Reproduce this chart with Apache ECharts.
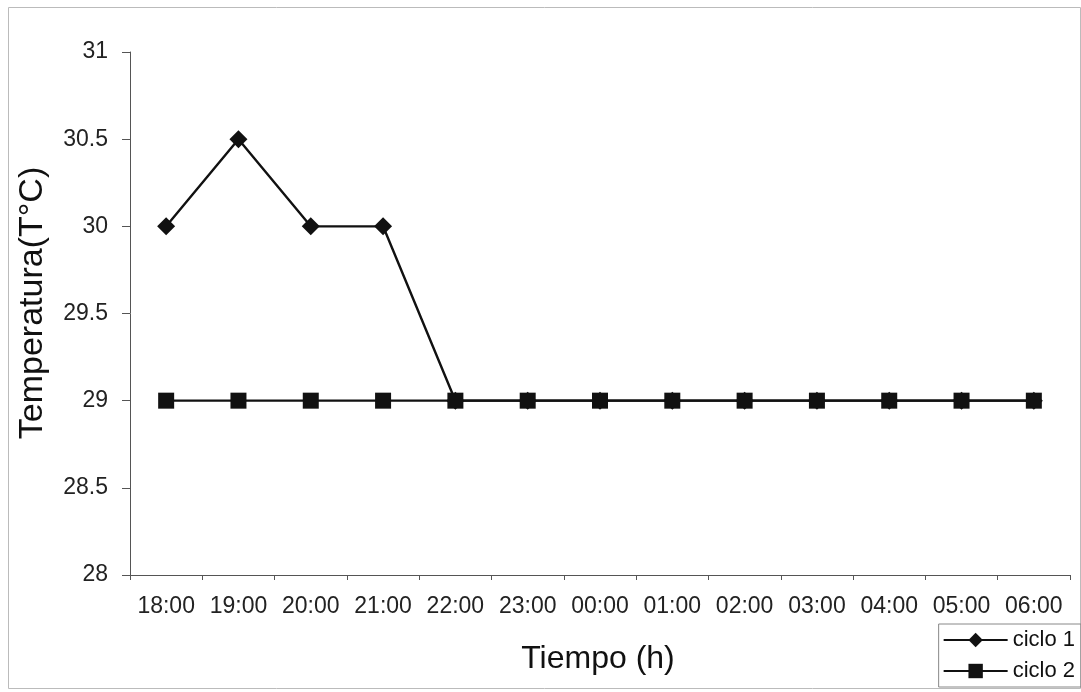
<!DOCTYPE html>
<html>
<head>
<meta charset="utf-8">
<script src="https://cdn.jsdelivr.net/npm/echarts@6/dist/echarts.min.js"></script>
<style>
html,body{margin:0;padding:0;background:#fff;}
#c{width:1081px;height:692px;}
</style>
</head>
<body>
<div id="c"></div>
<script>
const categories = ['18:00','19:00','20:00','21:00','22:00','23:00','00:00','01:00','02:00','03:00','04:00','05:00','06:00'];
const ciclo1 = [30, 30.5, 30, 30, 29, 29, 29, 29, 29, 29, 29, 29, 29];
const ciclo2 = [29, 29, 29, 29, 29, 29, 29, 29, 29, 29, 29, 29, 29];
const yTicks = [28, 28.5, 29, 29.5, 30, 30.5, 31];
const xTitle = 'Tiempo (h)';
const yTitle = 'Temperatura(T°C)';

const chart = echarts.init(document.getElementById('c'), null, {renderer:'canvas'});
const font = 'Liberation Sans, Arial, sans-serif';
chart.setOption({
  animation:false,
  backgroundColor:'#fff',
  grid:{left:130, right:11, top:52, bottom:117},
  graphic:[
    {type:'rect', shape:{x:8.5,y:7.5,width:1072,height:681}, style:{fill:null, stroke:'#bbb', lineWidth:1}, silent:true},
    {type:'text', x:598, y:659, style:{text:xTitle, font:'32px '+font, fill:'#111', align:'center', verticalAlign:'middle'}},
    {type:'text', rotation:Math.PI/2, x:33, y:303, style:{text:yTitle, font:'34px '+font, fill:'#111', align:'center', verticalAlign:'middle'}}
  ],
  legend:{
    orient:'vertical', right:0, bottom:5,
    data:['ciclo 1','ciclo 2'],
    itemWidth:64, itemHeight:18, itemGap:9,
    borderColor:'#888', borderWidth:1, borderRadius:0,
    padding:[5,6,5,4],
    textStyle:{fontFamily:font, fontSize:22, color:'#111'}
  },
  xAxis:{
    type:'category', data:categories, boundaryGap:true,
    axisLine:{lineStyle:{color:'#555', width:1}},
    axisTick:{show:true, length:5, lineStyle:{color:'#555'}},
    axisLabel:{fontFamily:font, fontSize:23, color:'#222', margin:20, interval:0},
    splitLine:{show:false}
  },
  yAxis:{
    type:'value', min:28, max:31, interval:0.5,
    axisLine:{show:true, lineStyle:{color:'#555', width:1}},
    axisTick:{show:true, length:8, lineStyle:{color:'#555'}},
    axisLabel:{fontFamily:font, fontSize:23, color:'#222', margin:22,
      formatter:function(v){return yTicks.indexOf(v)>=0 ? String(v) : '';}},
    splitLine:{show:false}
  },
  series:[
    {name:'ciclo 1', type:'line', data:ciclo1, symbol:'diamond', symbolSize:18,
     lineStyle:{color:'#111', width:2.4}, itemStyle:{color:'#111'}, z:2},
    {name:'ciclo 2', type:'line', data:ciclo2, symbol:'rect', symbolSize:16,
     lineStyle:{color:'#111', width:2.4}, itemStyle:{color:'#111'}, z:3}
  ]
});
</script>
</body>
</html>
